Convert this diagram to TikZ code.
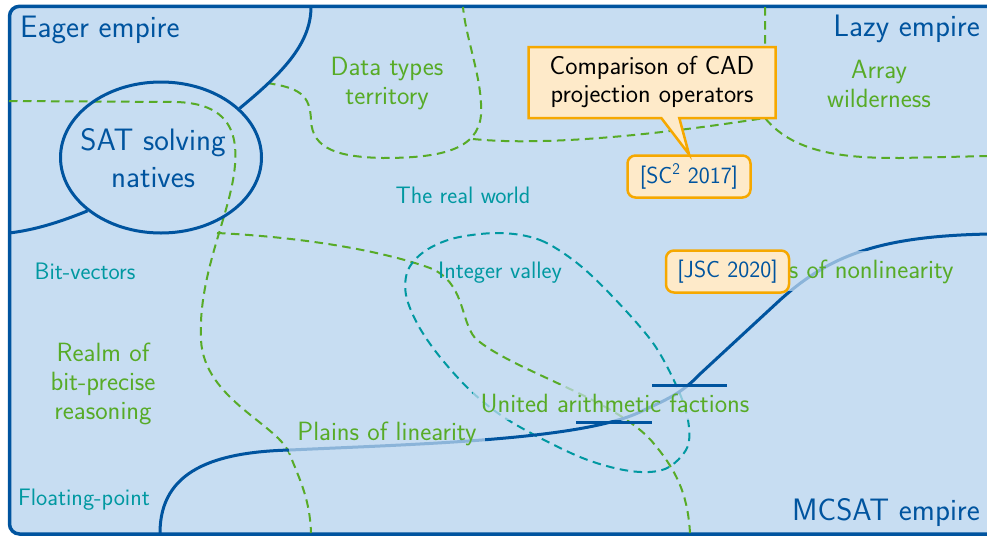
\documentclass[tikz,border=0pt]{standalone}
\usetikzlibrary{shapes.geometric, shapes.callouts, positioning}

\definecolor{rwthblue}{RGB}{0,84,159}
\definecolor{rwthlight}{RGB}{199,221,242}
\definecolor{rwthgreen}{RGB}{87,171,39}
\definecolor{rwthteal}{RGB}{0,152,161}
\definecolor{rwthorange}{RGB}{246,168,0}
\definecolor{rwthpale}{RGB}{254,234,201}

\begin{document}
\begin{tikzpicture}[
    x=1pt, y=-1pt,
    empire/.style={draw=rwthblue, line width=3pt},
    frontier/.style={draw=rwthgreen, line width=2pt, dash pattern=on 8.5pt off 5.5pt},
    valley/.style={draw=rwthteal, line width=2pt, dash pattern=on 8.5pt off 5.5pt},
    kingdom/.style={text=rwthblue, inner sep=0pt, align=center, font=\sffamily\fontsize{31}{37}\selectfont},
    region/.style={text=rwthgreen, align=center, font=\sffamily\fontsize{26.4}{29}\selectfont},
    area/.style={text=rwthteal, align=center, font=\sffamily\fontsize{23.8}{27}\selectfont},
    plain/.style={region, fill=rwthlight, fill opacity=0.7, text opacity=1, inner sep=8pt},
    cite/.style={rectangle, draw=rwthorange, fill=rwthpale, line width=2.5pt, rounded corners=8pt, text=rwthblue, minimum width=123pt, minimum height=42pt, font=\sffamily\fontsize{23.3}{27}\selectfont},
    note/.style={rectangle callout, draw=rwthorange, fill=rwthpale, line width=2.5pt, align=center, minimum width=247pt, minimum height=71pt, callout pointer width=18pt, font=\sffamily\fontsize{26}{28}\selectfont},
]
\useasboundingbox (0,0) rectangle (987,536);
\draw[rwthblue, fill=rwthlight, line width=3.5pt, rounded corners=10pt] (9.5,6.3) rectangle (1020,534);

% regions of the green borders
\draw[frontier] (9,101) -- (175,102) .. controls (235,103) and (240,140) .. (233,180) .. controls (225,225) and (198,280) .. (201,340) .. controls (204,400) and (280,425) .. (290,455) .. controls (300,480) and (310,500) .. (311,533);
\draw[frontier] (267,83) .. controls (300,88) and (310,95) .. (311,120) .. controls (312,150) and (340,157) .. (383,158) .. controls (440,158) and (478,150) .. (481,115) .. controls (483,80) and (466,40) .. (463,7);
\draw[frontier] (473,139) .. controls (560,148) and (700,128) .. (765,118);
\draw[frontier] (765,7) -- (765,118) .. controls (795,155) and (850,158) .. (900,158) -- (990,156);
\draw[frontier] (217,233) .. controls (300,237) and (380,250) .. (430,268) .. controls (465,282) and (460,320) .. (475,338) .. controls (510,370) and (620,400) .. (655,445) .. controls (680,475) and (688,500) .. (690,533);
\draw[valley] plot[smooth cycle, tension=0.55] coordinates {(500,233) (540,240) (577,263) (613,297) (653,343) (677,387) (688,420) (687,448) (665,469) (630,471) (580,457) (513,423) (473,393) (440,357) (418,325) (406,295) (408,270) (425,251) (455,238)};

% empires
\node[ellipse, empire, minimum width=201pt, minimum height=151pt, inner sep=0pt] (sat) at (161,157.5) {};
\node[kingdom] (natives) at (153,158) {SAT solving\\natives};
\draw[empire] (311,7) .. controls (311,45) and (280,75) .. (sat.32);
\draw[empire] (sat.216) .. controls (60,222) and (35,230) .. (9,233);
\draw[empire] (160,533) .. controls (160,470) and (215,452) .. (290,450) .. controls (420,444) and (580,440) .. (640,412) .. controls (665,400) and (680,395) .. (700,374) -- (780,300) .. controls (830,255) and (880,236) .. (990,234);

\node[kingdom, anchor=base west] (eager) at (20,37) {Eager empire};
\node[kingdom, anchor=base east] (lazy) at (980,36) {Lazy empire};
\node[kingdom, anchor=base east] (mcsat) at (980,520) {MCSAT empire};

\node[region] (data) at (387,84) {Data types\\territory};
\node[region] (array) at (879,84) {Array\\wilderness};
\node[region] (realm) at (103,384) {Realm of\\bit-precise\\reasoning};
\node[area, anchor=base] (real) at (463,203) {The real world};
\node[area, anchor=base] (bits) at (85,279) {Bit-vectors};
\node[area, anchor=base] (integer) at (500,278) {Integer valley};
\node[area, anchor=base] (float) at (84,505) {Floating-point};

\node[plain, anchor=base] (linear) at (387,440) {Plains of linearity};
\node[plain, anchor=base] (united) at (615,412) {United arithmetic factions};
\node[plain, anchor=base] (nonlinear) at (845,278) {Plains of nonlinearity};

\draw[empire] (576,422) -- (652,422);
\draw[empire] (652,385) -- (727,385);

% citations
\node[cite] (sc) at (689,176.5) {[SC\textsuperscript{2} 2017]};
\node[cite] (jsc) at (727.5,271.5) {[JSC 2020]};
\node[note, callout absolute pointer=(sc.north)] (cad) at (652,82.5) {Comparison of CAD\\projection operators};

\end{tikzpicture}
\end{document}
